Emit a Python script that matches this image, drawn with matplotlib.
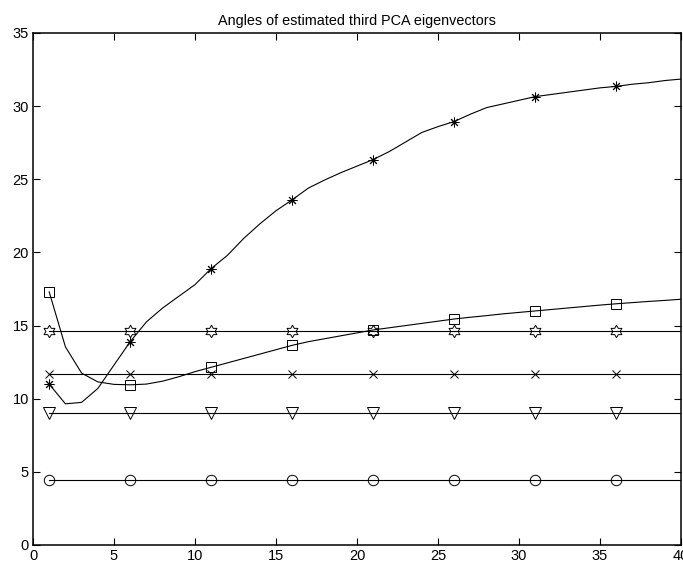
import matplotlib
matplotlib.use("Agg")
import matplotlib.pyplot as plt
from matplotlib.path import Path
import numpy as np

plt.rcParams['font.family'] = ['Liberation Sans', 'DejaVu Sans']

steps = list(range(1, 41))
marker_steps = [1, 6, 11, 16, 21, 26, 31, 36]

star_curve = [11.0, 9.65, 9.75, 10.7, 12.3, 13.9, 15.25, 16.2, 17.0, 17.8,
              18.9, 19.8, 20.95, 21.95, 22.85, 23.6, 24.4, 24.95, 25.45, 25.9,
              26.35, 26.9, 27.55, 28.2, 28.6, 28.95, 29.45, 29.9, 30.15, 30.4,
              30.65, 30.8, 30.95, 31.1, 31.25, 31.35, 31.5, 31.6, 31.75, 31.85]
square_curve = [17.3, 13.55, 11.75, 11.15, 10.98, 10.95, 11.0, 11.2, 11.5, 11.85,
                12.15, 12.45, 12.75, 13.05, 13.35, 13.65, 13.9, 14.1, 14.3, 14.5,
                14.7, 14.85, 15.0, 15.15, 15.3, 15.45, 15.57, 15.68, 15.8, 15.9,
                16.0, 16.1, 16.2, 16.3, 16.4, 16.49, 16.57, 16.65, 16.72, 16.8]
hexagram_level = 14.65
cross_level = 11.69
triangle_level = 9.05
circle_level = 4.44

x_ticks = [0, 5, 10, 15, 20, 25, 30, 35, 40]
y_ticks = [0, 5, 10, 15, 20, 25, 30, 35]
title = "Angles of estimated third PCA eigenvectors"

# hexagram (six-pointed star outline) marker
ang_out = np.deg2rad(90 + 60 * np.arange(6))
ang_in = ang_out + np.deg2rad(30)
r_in = 1 / np.sqrt(3)
verts = []
for ao, ai in zip(ang_out, ang_in):
    verts.append((np.cos(ao), np.sin(ao)))
    verts.append((r_in * np.cos(ai), r_in * np.sin(ai)))
verts.append(verts[0])
hexagram = Path(verts, [Path.MOVETO] + [Path.LINETO] * 11 + [Path.CLOSEPOLY])

fig = plt.figure(figsize=(6.83, 5.63), dpi=100)
ax = fig.add_axes([33 / 683, 18 / 563, 648 / 683, 512 / 563])

lw = 0.8
mew = 0.7
ms = 7
idx = [steps.index(s) for s in marker_steps]

def series(y, marker, size=ms):
    ax.plot(steps, y, color='black', lw=lw, marker=marker, markevery=idx,
            markersize=size, markerfacecolor='none', markeredgecolor='black',
            markeredgewidth=mew, clip_on=True)

series(star_curve, (8, 2, 0), 7)
series(square_curve, 's', 7)
series([hexagram_level] * len(steps), hexagram, 9)
series([cross_level] * len(steps), 'x', 5.5)
series([triangle_level] * len(steps), 'v', 8)
series([circle_level] * len(steps), 'o', 7.5)

ax.set_xlim(0, 40)
ax.set_ylim(0, 35)
ax.set_xticks(x_ticks)
ax.set_yticks(y_ticks)
ax.tick_params(direction='in', length=5, width=0.8, top=True, right=True,
               labelsize=10.5, pad=3)
for s in ax.spines.values():
    s.set_linewidth(1.1)
ax.set_title(title, fontsize=10.4, pad=6)

fig.savefig("out.png", dpi=100)
